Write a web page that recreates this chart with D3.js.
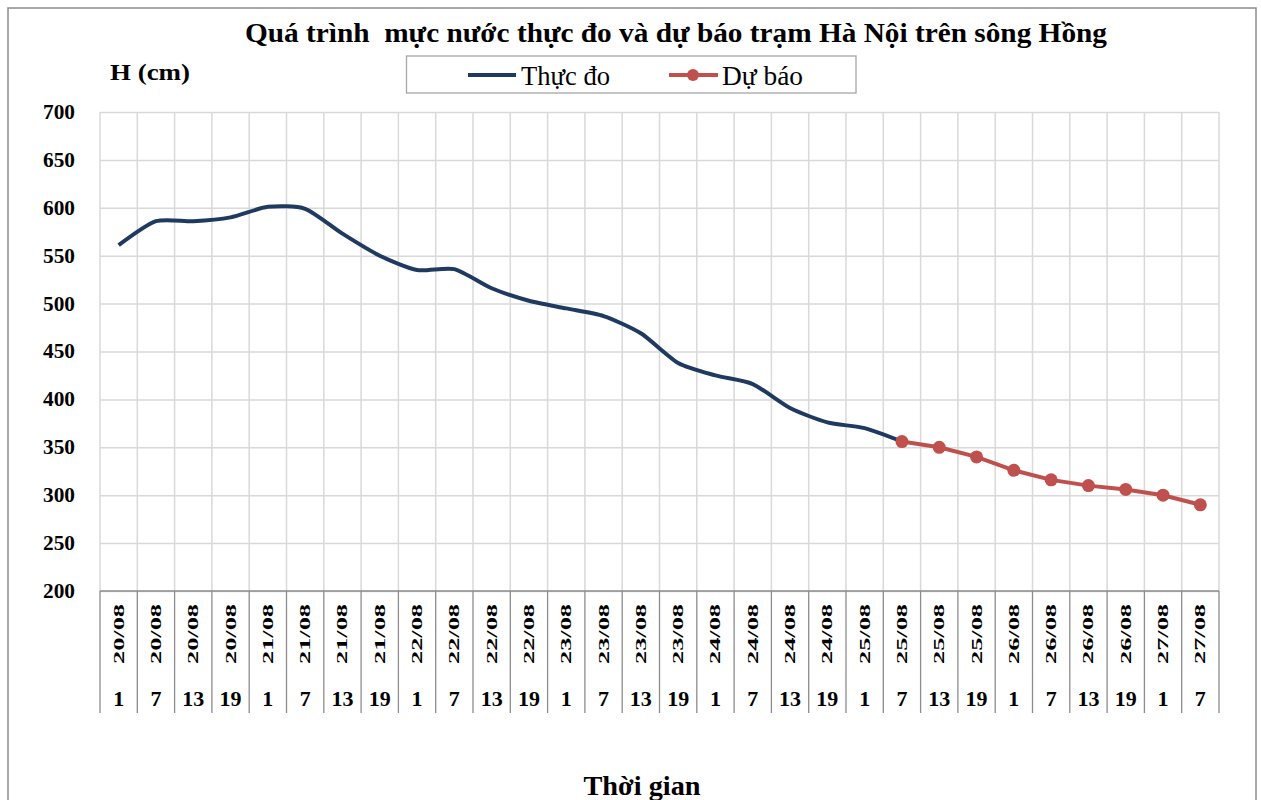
<!doctype html>
<html>
<head>
<meta charset="UTF-8">
<title>Mực nước trạm Hà Nội</title>
<script src="https://cdn.jsdelivr.net/npm/d3@7"></script>
<style>
  body { margin: 0; background: #fff; }
  text { font-family: "Liberation Serif", "Times New Roman", serif; }
</style>
</head>
<body>
<svg id="chart" width="1261" height="800"></svg>
<script>
// data
const days  = ["20/08","20/08","20/08","20/08","21/08","21/08","21/08","21/08",
               "22/08","22/08","22/08","22/08","23/08","23/08","23/08","23/08",
               "24/08","24/08","24/08","24/08","25/08","25/08","25/08","25/08",
               "26/08","26/08","26/08","26/08","27/08","27/08"];
const hours = ["1","7","13","19","1","7","13","19","1","7","13","19","1","7","13","19",
               "1","7","13","19","1","7","13","19","1","7","13","19","1","7"];
const observed = [561,586,586,590,601,599,573,550,535,536,516,503,495,487,469,438,
                  425,416,391,376,370,356];
const forecastStart = 21;
const forecast = [356,350,340,326,316,310,306,300,290];
const yTicks = [200,250,300,350,400,450,500,550,600,650,700];

const svg = d3.select("#chart");
const plotL = 100, plotR = 1219, plotT = 112, plotB = 591;
const idx = d3.range(days.length);

const x = d3.scaleBand().domain(idx).range([plotL, plotR]).padding(0);
const y = d3.scaleLinear().domain([200, 700]).range([plotB, plotT]);
const cx = i => x(i) + x.bandwidth() / 2;

// outer frame
svg.append("rect").attr("x", 8).attr("y", 8).attr("width", 1248).attr("height", 800)
  .attr("fill", "none").attr("stroke", "#8c8c8c").attr("stroke-width", 1.5);

// horizontal grid + y labels
const yAxis = svg.append("g").attr("transform", `translate(${plotL},0)`)
  .call(d3.axisLeft(y).tickValues(yTicks).tickSize(-(plotR - plotL)).tickPadding(25));
yAxis.select(".domain").remove();
yAxis.selectAll(".tick line").attr("stroke", "#d9d9d9").attr("stroke-width", 1.5);
yAxis.selectAll(".tick text").attr("font-size", 20).attr("font-weight", "bold")
  .attr("fill", "#000").attr("font-family", "Liberation Serif")
  .attr("textLength", 32).attr("lengthAdjust", "spacingAndGlyphs");

// vertical grid at category boundaries
const bounds = d3.range(days.length + 1).map(k => plotL + k * x.bandwidth());
svg.append("g").selectAll("line").data(bounds).join("line")
  .attr("x1", d => d).attr("x2", d => d).attr("y1", plotT).attr("y2", plotB)
  .attr("stroke", "#d9d9d9").attr("stroke-width", 1.5);

// category separators below the axis
svg.append("g").selectAll("line").data(bounds).join("line")
  .attr("x1", d => d).attr("x2", d => d).attr("y1", plotB).attr("y2", 713)
  .attr("stroke", "#8c8c8c").attr("stroke-width", 1.3);
svg.append("line").attr("x1", plotL).attr("x2", plotR).attr("y1", plotB).attr("y2", plotB)
  .attr("stroke", "#8c8c8c").attr("stroke-width", 1.5);

// date labels (rotated) and hour labels
svg.append("g").selectAll("text").data(idx).join("text")
  .attr("transform", i => `translate(${cx(i) + 5},634) rotate(-90)`)
  .attr("text-anchor", "middle").attr("font-size", 15).attr("font-weight", "bold")
  .attr("textLength", 60).attr("lengthAdjust", "spacingAndGlyphs")
  .text(i => days[i]);
svg.append("g").selectAll("text").data(idx).join("text")
  .attr("x", i => cx(i)).attr("y", 706)
  .attr("text-anchor", "middle").attr("font-size", 22).attr("font-weight", "bold")
  .text(i => hours[i]);

// observed line
const smooth = d3.line().x(d => cx(d.i)).y(d => y(d.v)).curve(d3.curveCardinal.tension(0.3));
svg.append("path").datum(observed.map((v, i) => ({ i, v })))
  .attr("d", smooth).attr("fill", "none").attr("stroke", "#1f3a60")
  .attr("stroke-width", 4).attr("stroke-linejoin", "round");

// forecast line with markers
const fc = forecast.map((v, k) => ({ i: forecastStart + k, v }));
svg.append("path").datum(fc)
  .attr("d", d3.line().x(d => cx(d.i)).y(d => y(d.v)))
  .attr("fill", "none").attr("stroke", "#c0504d").attr("stroke-width", 4);
svg.append("g").selectAll("circle").data(fc).join("circle")
  .attr("cx", d => cx(d.i)).attr("cy", d => y(d.v)).attr("r", 6.5).attr("fill", "#c0504d");

// title
svg.append("text").attr("x", 676).attr("y", 42).attr("text-anchor", "middle")
  .attr("font-size", 27).attr("font-weight", "bold").style("white-space", "pre")
  .attr("textLength", 862).attr("lengthAdjust", "spacingAndGlyphs")
  .text("Quá trình  mực nước thực đo và dự báo trạm Hà Nội trên sông Hồng");

// y axis title
svg.append("text").attr("x", 110).attr("y", 80).attr("font-size", 24).attr("font-weight", "bold")
  .attr("textLength", 80).attr("lengthAdjust", "spacingAndGlyphs")
  .text("H (cm)");

// legend
const lg = svg.append("g");
lg.append("rect").attr("x", 406.5).attr("y", 56).attr("width", 449.5).attr("height", 37)
  .attr("fill", "#fff").attr("stroke", "#a6a6a6").attr("stroke-width", 1.3);
lg.append("line").attr("x1", 468).attr("x2", 516).attr("y1", 75).attr("y2", 75)
  .attr("stroke", "#1f3a60").attr("stroke-width", 4);
lg.append("text").attr("x", 521).attr("y", 85).attr("font-size", 27)
  .attr("textLength", 89).attr("lengthAdjust", "spacingAndGlyphs").text("Thực đo");
lg.append("line").attr("x1", 669).attr("x2", 718).attr("y1", 75).attr("y2", 75)
  .attr("stroke", "#c0504d").attr("stroke-width", 4);
lg.append("circle").attr("cx", 693).attr("cy", 75).attr("r", 6).attr("fill", "#c0504d");
lg.append("text").attr("x", 722).attr("y", 85).attr("font-size", 27)
  .attr("textLength", 81).attr("lengthAdjust", "spacingAndGlyphs").text("Dự báo");

// x axis title
svg.append("text").attr("x", 642).attr("y", 795).attr("text-anchor", "middle")
  .attr("font-size", 27).attr("font-weight", "bold")
  .attr("textLength", 117).attr("lengthAdjust", "spacingAndGlyphs").text("Thời gian");
</script>
</body>
</html>
